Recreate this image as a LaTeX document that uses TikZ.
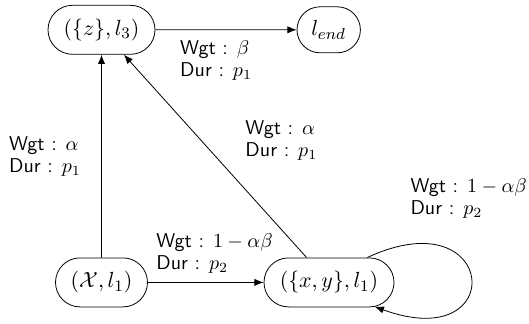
\documentclass[tikz,border=0pt]{standalone}
\usetikzlibrary{shapes.misc,arrows.meta}
\begin{document}
\begin{tikzpicture}[x=1pt,y=1pt,
  state/.style={rounded rectangle, draw, line width=0.4pt, minimum height=24.5pt,
    inner sep=0pt, font=\fontsize{11}{13}\selectfont},
  edgelabel/.style={font=\sffamily\fontsize{10}{11}\selectfont, align=left, inner sep=3.33pt},
  arr/.style={-{Latex[length=4.6pt,width=3.6pt]}, line width=0.4pt}]
\useasboundingbox (0,0) rectangle (264.5,161.5);

% states
\node[state, minimum width=53.5pt] (z) at (50.75,146.6) {$(\{z\},l_3)$};
\node[state, minimum width=31.7pt, minimum height=23pt] (end) at (164.35,146.6) {$l_{end}$};
\node[state, minimum width=46pt] (X) at (50.75,20.3) {$(\mathcal{X},l_1)$};
\node[state, minimum width=65pt] (xy) at (164.5,20.3) {$(\{x,y\},l_1)$};

% transitions
\draw[arr] (z) -- node[edgelabel, pos=0.43, below=2pt] (lb1) {Wgt : $\beta$\\Dur : $p_1$} (end);
\draw[arr] (X) -- node[edgelabel, left=6.8pt] (lb2) {Wgt : $\alpha$\\Dur : $p_1$} (z);
\draw[arr] (xy) -- node[edgelabel, pos=0.579, right=18.8pt] (lb3) {Wgt : $\alpha$\\Dur : $p_1$} (z);
\draw[arr] (X) -- node[edgelabel, pos=0, anchor=south west, xshift=0.7pt, yshift=1pt] (lb4)
  {Wgt : $1-\alpha\beta$\\Dur : $p_2$} (xy);
% self loop on ({x,y}, l_1)
\draw[arr] (xy.33) .. controls +(25:72pt) and +(-20:72pt) ..
  node[edgelabel, pos=0.35, anchor=west, xshift=-28.1pt, yshift=28.6pt] (lb5)
  {Wgt : $1-\alpha\beta$\\Dur : $p_2$} (xy.-28);
\end{tikzpicture}
\end{document}
